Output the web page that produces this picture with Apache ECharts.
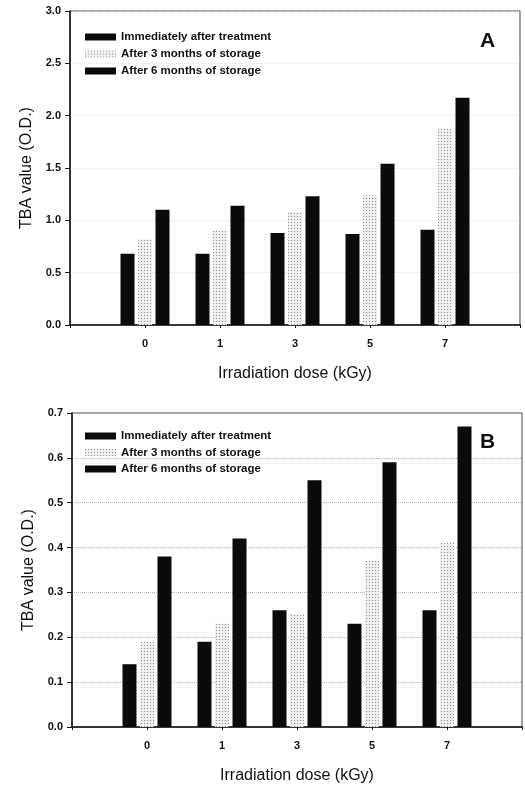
<!DOCTYPE html>
<html>
<head>
<meta charset="utf-8">
<script src="https://cdn.jsdelivr.net/npm/echarts@6/dist/echarts.min.js"></script>
<style>
  html, body { margin: 0; padding: 0; background: #fff; }
  #chart { width: 525px; height: 785px; }
</style>
</head>
<body>
<div id="chart"></div>
<script>
// dose categories, padded with an empty slot on each side like the original plot
const doses = ['0', '1', '3', '5', '7']
const seriesNames = ['Immediately after treatment', 'After 3 months of storage', 'After 6 months of storage']

// panel A (TBA, O.D.)
const aImmediate = [0.68, 0.68, 0.88, 0.87, 0.91]
const aMonth3 = [0.82, 0.90, 1.08, 1.24, 1.88]
const aMonth6 = [1.10, 1.14, 1.23, 1.54, 2.17]

// panel B (TBA, O.D.)
const bImmediate = [0.14, 0.19, 0.26, 0.23, 0.26]
const bMonth3 = [0.19, 0.23, 0.25, 0.37, 0.41]
const bMonth6 = [0.38, 0.42, 0.55, 0.59, 0.67]

const categories = ['', ...doses, '']
const pad = arr => ['-', ...arr, '-']

const font = 'Liberation Sans, Arial, sans-serif'
const black = '#0b0b0b'
const stipple = {
  color: '#efefef',
  decal: {
    symbol: 'rect',
    symbolSize: 1,
    color: '#8c8c8c',
    dashArrayX: [1, 2],
    dashArrayY: [1, 2]
  }
}

const makeBar = (name, data, idx, style) => ({
  name,
  type: 'bar',
  xAxisIndex: idx,
  yAxisIndex: idx,
  data: pad(data),
  barWidth: 14,
  barGap: '25%',
  itemStyle: style
})

const xAxisFor = (idx, nameGap) => ({
  type: 'category',
  gridIndex: idx,
  data: categories,
  boundaryGap: false,
  name: 'Irradiation dose (kGy)',
  nameLocation: 'middle',
  nameGap,
  nameTextStyle: { fontFamily: font, fontSize: 16, color: '#111' },
  axisLine: { lineStyle: { color: '#111', width: 1.5 } },
  axisTick: { show: true, length: 3, interval: 0, lineStyle: { color: '#111' } },
  axisLabel: { interval: 0, margin: 13, fontFamily: font, fontSize: 11, fontWeight: 'bold', color: '#111' },
  splitLine: { show: false }
})

const yAxisFor = (idx, max, interval, gridColor) => ({
  type: 'value',
  gridIndex: idx,
  min: 0,
  max,
  interval,
  name: 'TBA value (O.D.)',
  nameLocation: 'middle',
  nameGap: 33,
  nameTextStyle: { fontFamily: font, fontSize: 16, color: '#111' },
  axisLine: { show: true, lineStyle: { color: '#111', width: 1.5 } },
  axisTick: { show: true, length: 5, lineStyle: { color: '#111' } },
  axisLabel: {
    margin: 9, fontFamily: font, fontSize: 11, fontWeight: 'bold', color: '#111',
    formatter: v => v.toFixed(1)
  },
  splitLine: { show: true, lineStyle: { color: gridColor, type: 'dotted', width: 1 } }
})

const legendFor = (top, gap) => ({
  orient: 'vertical',
  left: 80,
  top,
  itemWidth: 31,
  itemHeight: 7,
  itemGap: gap,
  icon: 'rect',
  selectedMode: false,
  data: seriesNames,
  textStyle: { fontFamily: font, fontSize: 11.5, fontWeight: 'bold', color: '#111', lineHeight: 14 }
})

const chart = echarts.init(document.getElementById('chart'))

chart.setOption({
  backgroundColor: '#fff',
  animation: false,
  title: [
    { text: 'A', left: 475, top: 26, textStyle: { fontFamily: font, fontSize: 21, fontWeight: 'bold', color: '#111' } },
    { text: 'B', left: 475, top: 427, textStyle: { fontFamily: font, fontSize: 21, fontWeight: 'bold', color: '#111' } }
  ],
  legend: [legendFor(25, 3), legendFor(424, 2.5)],
  grid: [
    { left: 70, top: 11, width: 450, height: 314, show: true, borderColor: '#444', borderWidth: 1, outerBoundsMode: 'none' },
    { left: 72, top: 413, width: 450, height: 314, show: true, borderColor: '#444', borderWidth: 1, outerBoundsMode: 'none' }
  ],
  xAxis: [xAxisFor(0, 41), xAxisFor(1, 41)],
  yAxis: [yAxisFor(0, 3, 0.5, '#e2e2e2'), yAxisFor(1, 0.7, 0.1, '#b5b5b5')],
  series: [
    makeBar(seriesNames[0], aImmediate, 0, { color: black }),
    makeBar(seriesNames[1], aMonth3, 0, stipple),
    makeBar(seriesNames[2], aMonth6, 0, { color: black }),
    makeBar(seriesNames[0], bImmediate, 1, { color: black }),
    makeBar(seriesNames[1], bMonth3, 1, stipple),
    makeBar(seriesNames[2], bMonth6, 1, { color: black })
  ]
})
</script>
</body>
</html>
